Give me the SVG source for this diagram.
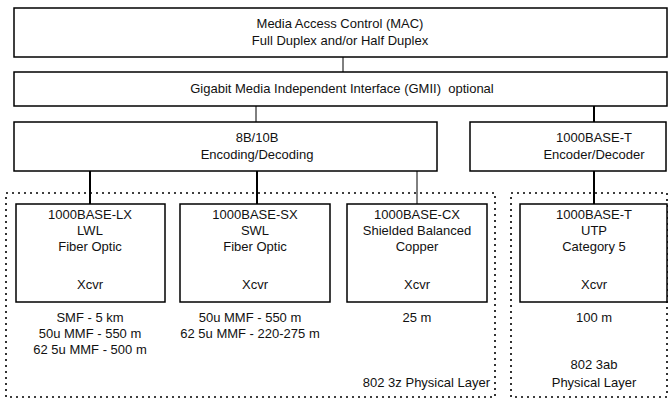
<svg xmlns="http://www.w3.org/2000/svg" width="669" height="401" viewBox="0 0 669 401">
<style>
.box{fill:#fff;stroke:#000;stroke-width:1.5}
.grp{fill:none;stroke:#000;stroke-width:1.6;stroke-dasharray:2 4}
.c{stroke:#000;stroke-width:2;fill:none}
.ct{stroke:#000;stroke-width:1;fill:none}
text{font-family:"Liberation Sans",Arial,sans-serif;font-size:13px;fill:#111;text-anchor:middle}
</style>
<rect width="669" height="401" fill="#fff"/>
<g id="group-8023z"><rect class="grp" x="6" y="193" width="489" height="204"/><text x="490" y="387" style="text-anchor:end">802 3z Physical Layer</text></g>
<g id="group-8023ab"><rect class="grp" x="511" y="193" width="156" height="204"/><text x="594" y="369">802 3ab</text><text x="594" y="387">Physical Layer</text></g>
<g id="connectors">
<line class="ct" x1="343" y1="57" x2="343" y2="72"/>
<line class="ct" x1="256" y1="106" x2="256" y2="122"/>
<line class="c" x1="594" y1="106" x2="594" y2="122"/>
<line class="c" x1="90" y1="171" x2="90" y2="204"/>
<line class="c" x1="257" y1="171" x2="257" y2="204"/>
<line class="ct" x1="417" y1="171" x2="417" y2="204"/>
<line class="c" x1="594" y1="171" x2="594" y2="204"/>
</g>
<g id="mac"><rect class="box" x="14" y="8" width="653" height="49"/><text x="340" y="28">Media Access Control (MAC)</text><text x="340" y="45">Full Duplex and/or Half Duplex</text></g>
<g id="gmii"><rect class="box" x="14" y="72" width="653" height="34"/><text x="342" y="93" xml:space="preserve">Gigabit Media Independent Interface (GMII)  optional</text></g>
<g id="enc8b10b"><rect class="box" x="14" y="122" width="423" height="49"/><text x="257" y="142">8B/10B</text><text x="257" y="159">Encoding/Decoding</text></g>
<g id="enc1000t"><rect class="box" x="470" y="122" width="196" height="49"/><text x="594" y="142">1000BASE-T</text><text x="594" y="159">Encoder/Decoder</text></g>
<g id="lx"><rect class="box" x="16" y="204" width="149" height="98"/><text x="90" y="219">1000BASE-LX</text><text x="90" y="235">LWL</text><text x="90" y="251">Fiber Optic</text><text x="90" y="289">Xcvr</text>
<text x="90" y="322">SMF - 5 km</text><text x="90" y="338">50u MMF - 550 m</text><text x="90" y="354">62 5u MMF - 500 m</text></g>
<g id="sx"><rect class="box" x="180" y="204" width="150" height="98"/><text x="255" y="219">1000BASE-SX</text><text x="255" y="235">SWL</text><text x="255" y="251">Fiber Optic</text><text x="255" y="289">Xcvr</text>
<text x="250" y="322">50u MMF - 550 m</text><text x="250" y="338">62 5u MMF - 220-275 m</text></g>
<g id="cx"><rect class="box" x="347" y="204" width="140" height="98"/><text x="417" y="219">1000BASE-CX</text><text x="417" y="235">Shielded Balanced</text><text x="417" y="251">Copper</text><text x="417" y="289">Xcvr</text>
<text x="417" y="322">25 m</text></g>
<g id="t"><rect class="box" x="520" y="204" width="147" height="98"/><text x="594" y="219">1000BASE-T</text><text x="594" y="235">UTP</text><text x="594" y="251">Category 5</text><text x="594" y="289">Xcvr</text>
<text x="594" y="322">100 m</text></g>
</svg>
